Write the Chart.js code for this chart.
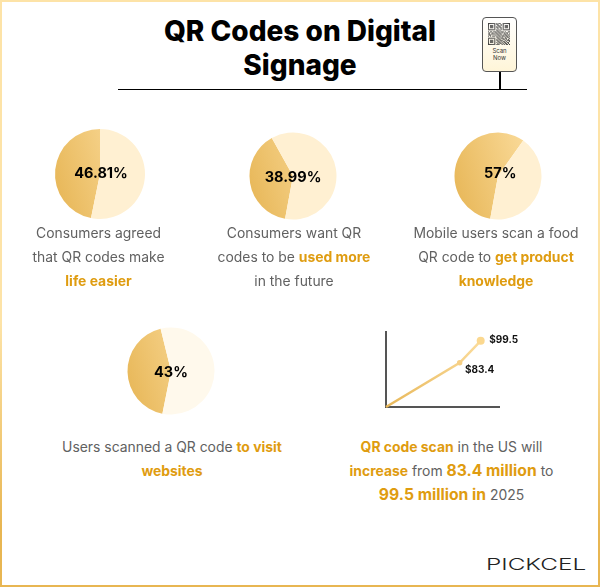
<!DOCTYPE html>
<html>
<head>
<meta charset="utf-8">
<script src="https://cdn.jsdelivr.net/npm/chart.js@4"></script>
<style>
html, body { margin: 0; padding: 0; background: #fff; }
#page { position: relative; width: 600px; height: 587px; overflow: hidden; font-family: Inter, sans-serif; background: #fff; }
#frame { position: absolute; left: 0; top: 0; width: 600px; height: 587px; box-sizing: border-box; border: 2px solid; border-image: linear-gradient(180deg, #fde3a7, #fde3a7 55%, #e8b652 90%) 1; }
#title { position: absolute; left: 100px; width: 400px; top: 14px; text-align: center; font-size: 28px; line-height: 34px; font-weight: 800; color: #000; }
#rule { position: absolute; left: 118px; top: 89px; width: 409px; height: 1px; background: #000; }
.box { position: absolute; }
.cap { position: absolute; text-align: center; font-size: 13.9px; line-height: 24px; color: #616161; white-space: nowrap; }
.cap b { color: #df9c10; font-weight: 700; }
.cap b.big { font-size: 15.7px; line-height: 20px; }
#sign { position: absolute; left: 482px; top: 17px; width: 35px; height: 55px; box-sizing: border-box; border: 1.5px solid #555; border-radius: 4px; background: linear-gradient(#fff, #fff5d8); }
#pole { position: absolute; left: 499px; top: 72px; width: 1.5px; height: 17px; background: #000; }
#qr { position: absolute; left: 5px; top: 5px; opacity: 0.85; }
#scan { position: absolute; left: 0; right: 0; top: 29px; font: 6px/7px Inter, sans-serif; text-align: center; color: #333; }
#logo { position: absolute; left: 486px; top: 554px; font: 300 16px/20px Inter, sans-serif; color: #222; transform-origin: left center; transform: scaleX(1.52); }
</style>
</head>
<body>
<div id="page">
  <div id="frame"></div>
  <div id="title">QR Codes on Digital<br>Signage</div>
  <div id="rule"></div>
  <div id="sign"><svg id="qr" width="22" height="22" viewBox="0 0 21 21"></svg><div id="scan">Scan<br>Now</div></div>
  <div id="pole"></div>

  <div class="box" style="left:50px;top:124px;width:100px;height:100px"><canvas id="pie0"></canvas></div>
  <div class="box" style="left:243px;top:126px;width:100px;height:100px"><canvas id="pie1"></canvas></div>
  <div class="box" style="left:448px;top:126px;width:100px;height:100px"><canvas id="pie2"></canvas></div>
  <div class="box" style="left:121px;top:321px;width:100px;height:100px"><canvas id="pie3"></canvas></div>
  <div class="box" style="left:370px;top:322px;width:165px;height:95px"><canvas id="scans"></canvas></div>

  <div class="cap" style="left:0;width:197px;top:221px">Consumers agreed<br>that QR codes make<br><b>life easier</b></div>
  <div class="cap" style="left:196px;width:196px;top:221px">Consumers want QR<br>codes to be <b>used more</b><br>in the future</div>
  <div class="cap" style="left:396px;width:200px;top:221px">Mobile users scan a food<br>QR code to <b>get product<br>knowledge</b></div>
  <div class="cap" style="left:22px;width:300px;top:435px">Users scanned a QR code <b>to visit<br>websites</b></div>
  <div class="cap" style="left:311.5px;width:280px;top:435px"><b>QR code scan</b> in the US will<br><b>increase</b> from <b class="big">83.4 million</b> to<br><b class="big">99.5 million in</b> 2025</div>

  <div id="logo">PICKCEL</div>
</div>

<script>
// pie values, percent
var pieValues = [46.81, 38.99, 57, 43];
var pieLabels = ['46.81%', '38.99%', '57%', '43%'];
var pieStarts = [191.5, 190.5, 190.3, 191.4];
var pieRests = ['#fff0d2', '#fff0d2', '#fff0d2', '#fff9ec'];

// scan line
var scanSteps = [0, 7, 9];
var scanValues = [51, 83.4, 99.5];
var scanLabels = ['', '$83.4', '$99.5'];

var qrRows = [
  '111111101011001111111',
  '100000101100101000001',
  '101110100110101011101',
  '101110101011001011101',
  '101110101101101011101',
  '100000100100101000001',
  '111111101010101111111',
  '000000001101000000000',
  '101101110110111010011',
  '010010011011010101100',
  '110111101101100110101',
  '011000010110101011010',
  '101011101011011101101',
  '000000001101010010110',
  '111111100110111011001',
  '100000101011001101010',
  '101110101101110010111',
  '101110100110101101001',
  '101110101011010110110',
  '100000100101101011010',
  '111111101110010101101'
];

var qrSvg = '';
qrRows.forEach(function (row, y) {
    row.split('').forEach(function (c, x) {
        if (c === '1') qrSvg += '<rect x="' + x + '" y="' + y + '" width="1" height="1" fill="#222"/>';
    });
});
document.getElementById('qr').innerHTML = qrSvg;

Chart.defaults.animation = false;
Chart.defaults.responsive = false;

// centre text of a pie, not quite centred in the picture
var centerText = {
    id: 'centerText',
    afterDraw: function (chart, args, opts) {
        var arc = chart.getDatasetMeta(0).data[0];
        var c = chart.ctx;
        c.save();
        c.font = '700 14.5px Inter, sans-serif';
        c.fillStyle = '#000';
        c.textAlign = 'center';
        c.textBaseline = 'middle';
        c.fillText(opts.text, arc.x + opts.dx, arc.y + opts.dy);
        c.restore();
    }
};

var textDx = [1, 0, 2.3, 0];
var textDy = [0, 2, -2, 2];

function showPie(i) {
    var canvas = document.getElementById('pie' + i);
    canvas.width = 100;
    canvas.height = 100;
    var grad = canvas.getContext('2d').createLinearGradient(5, 60, 90, 35);
    grad.addColorStop(0, '#e8b85a');
    grad.addColorStop(1, '#fbdc9c');
    new Chart(canvas, {
        type: 'pie',
        data: {
            labels: ['share', 'rest'],
            datasets: [{
                data: [pieValues[i], 100 - pieValues[i]],
                backgroundColor: [grad, pieRests[i]],
                borderWidth: 0
            }]
        },
        options: {
            rotation: pieStarts[i],
            radius: i === 0 ? 45 : 43.5,
            layout: { padding: 0 },
            plugins: {
                legend: { display: false },
                tooltip: { enabled: false },
                centerText: { text: pieLabels[i], dx: textDx[i], dy: textDy[i] }
            }
        },
        plugins: [centerText]
    });
}

for (var i = 0; i < pieValues.length; i++) {
    showPie(i);
}

// value labels next to the points
var pointText = {
    id: 'pointText',
    afterDraw: function (chart) {
        var pts = chart.getDatasetMeta(0).data;
        var c = chart.ctx;
        c.save();
        c.font = '700 10px Inter, sans-serif';
        c.fillStyle = '#111';
        c.textBaseline = 'middle';
        c.fillText(scanLabels[1], pts[1].x + 5.3, pts[1].y + 7);
        c.fillText(scanLabels[2], pts[2].x + 8.6, pts[2].y - 1);
        c.restore();
    }
};

function showLine() {
    var canvas = document.getElementById('scans');
    canvas.width = 165;
    canvas.height = 95;
    var grad = canvas.getContext('2d').createLinearGradient(16, 85, 111, 18);
    grad.addColorStop(0, '#e8b85a');
    grad.addColorStop(1, '#fbdc9c');
    var points = [];
    for (var i = 0; i < scanSteps.length; i++) {
        points.push({ x: scanSteps[i], y: scanValues[i] });
    }
    new Chart(canvas, {
        type: 'line',
        data: {
            datasets: [{
                data: points,
                borderColor: grad,
                backgroundColor: grad,
                borderWidth: 2.5,
                tension: 0,
                clip: false,
                pointRadius: [0, 2.7, 4],
                pointBackgroundColor: ['#e8b85a', '#f6cf85', '#fbd88f'],
                pointBorderWidth: 0
            }]
        },
        options: {
            layout: { padding: { left: 16, right: 36, top: 10, bottom: 10 } },
            plugins: { legend: { display: false }, tooltip: { enabled: false } },
            scales: {
                x: {
                    type: 'linear', min: 0, max: 10.74,
                    grid: { display: false, drawTicks: false },
                    ticks: { display: false },
                    border: { color: '#555', width: 2 }
                },
                y: {
                    min: 51, max: 106,
                    grid: { display: false, drawTicks: false },
                    ticks: { display: false },
                    border: { color: '#555', width: 2 }
                }
            }
        },
        plugins: [pointText]
    });
}

showLine();
</script>
</body>
</html>
